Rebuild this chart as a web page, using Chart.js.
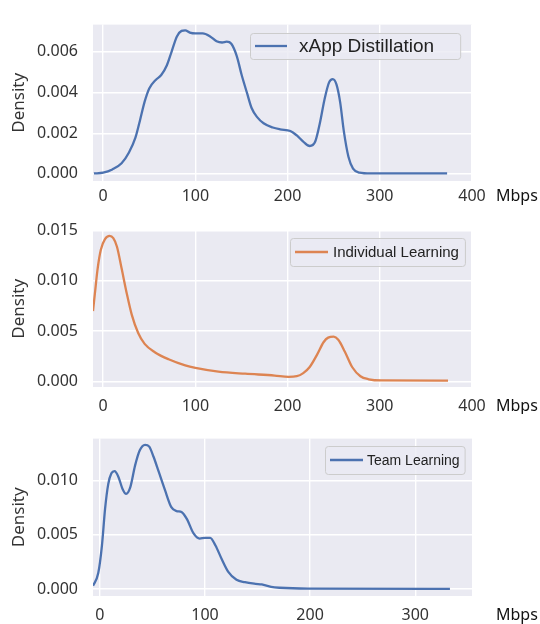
<!DOCTYPE html>
<html>
<head>
<meta charset="utf-8">
<script src="https://cdn.jsdelivr.net/npm/chart.js@4"></script>
<style>
  html, body { margin: 0; padding: 0; background: #fff; }
  #wrap { position: relative; width: 540px; height: 624px; }
  #wrap canvas { position: absolute; left: 0; }
</style>
</head>
<body>
<div id="wrap">
  <canvas id="c1" width="540" height="206" style="top:0"></canvas>
  <canvas id="c2" width="540" height="208" style="top:206px"></canvas>
  <canvas id="c3" width="540" height="210" style="top:414px"></canvas>
</div>
<script>
// density curves (x in Mbps)
const distX = [-10, 0, 10, 20, 28, 35, 40, 45, 50, 57, 63, 69, 74, 80, 85, 89, 94, 100, 108, 116,
  123, 129, 134, 139, 145, 150, 156, 161, 167, 174, 184, 192, 203, 210, 217, 224, 230, 235, 240,
  245, 249, 253, 257, 261, 266, 271, 278, 290, 373];
const distY = [0.00002, 0.00006, 0.00022, 0.00052, 0.00105, 0.00178, 0.00264, 0.00355, 0.00420,
  0.00462, 0.00486, 0.00533, 0.00598, 0.00676, 0.00703, 0.00706, 0.00695, 0.00691, 0.00691,
  0.00676, 0.00652, 0.00646, 0.00650, 0.00640, 0.00578, 0.00490, 0.00398, 0.00324, 0.00279,
  0.00249, 0.00228, 0.00219, 0.00211, 0.00189, 0.00159, 0.00137, 0.00159, 0.00249, 0.00365,
  0.00450, 0.00466, 0.00440, 0.00353, 0.00210, 0.00084, 0.00026, 0.00006, 0.00002, 0.00002];

const indivX = [-11, -9, -6, -2.5, 2, 7, 11, 15, 20, 25.5, 31, 38, 45, 56, 71, 89, 100, 125, 154,
  186, 201, 210, 217, 224, 232, 239, 244, 250, 255, 262, 270, 279, 288, 302, 374];
const indivY = [0.0070, 0.0087, 0.0112, 0.0131, 0.01415, 0.01447, 0.01425, 0.0134, 0.01125,
  0.0088, 0.00665, 0.00482, 0.00374, 0.00291, 0.00221, 0.0016, 0.00135, 0.00098, 0.00077,
  0.00059, 0.00046, 0.00052, 0.00083, 0.00144, 0.00267, 0.0039, 0.00436, 0.00445, 0.00414,
  0.00298, 0.00144, 0.00052, 0.00022, 0.0001, 0.00008];

const teamX = [-6.5, -1.5, 2, 5, 8, 11, 14, 17.5, 21.5, 25, 29, 33.5, 38, 43, 47, 51, 56, 62, 68,
  73, 78, 83, 89, 95, 100, 105, 110, 116, 122, 130, 138, 148, 154, 163, 171, 198, 333];
const teamY = [0.0003, 0.00147, 0.0040, 0.0074, 0.00966, 0.01065, 0.01085, 0.01037, 0.00924,
  0.00876, 0.00938, 0.01136, 0.01277, 0.01328, 0.01311, 0.0122, 0.0108, 0.0091, 0.00754,
  0.00718, 0.00707, 0.00641, 0.00514, 0.00464, 0.00472, 0.00472, 0.00401, 0.00274, 0.00161,
  0.00085, 0.00063, 0.00048, 0.00042, 0.0002, 0.00012, 0.00004, 0.00002];

const xTicksWide = [0, 100, 200, 300, 400];
const xTicksTeam = [0, 100, 200, 300];
const yTicksDist = [0, 0.002, 0.004, 0.006];
const yTicksIndiv = [0, 0.005, 0.010, 0.015];
const yTicksTeam = [0, 0.005, 0.010];

const BLUE = '#4C72B0';
const ORANGE = '#DD8452';

Chart.defaults.font.family = '"Noto Sans", "DejaVu Sans", sans-serif';
Chart.defaults.font.size = 16;
Chart.defaults.color = '#333';

// grey plot face, framed legend inside the axes, and the "Mbps" unit
const panelPlugin = {
  id: 'panel',
  beforeDraw(chart) {
    const {ctx, chartArea: a} = chart;
    ctx.save();
    ctx.fillStyle = '#EAEAF2';
    ctx.fillRect(a.left, a.top, a.right - a.left, a.bottom - a.top);
    ctx.restore();
  },
  afterDatasetsDraw(chart, args, o) {
    const {ctx, chartArea: a} = chart;
    const ds = chart.data.datasets[0];
    ctx.save();
    ctx.font = o.size + 'px "Liberation Sans", Arial, sans-serif';
    const tw = ctx.measureText(ds.label).width;
    const w = o.padL + o.line + o.gap + tw + o.padR;
    const x = Math.round(a.right - o.right - w);
    const y = Math.round(a.top + o.top);
    ctx.beginPath();
    ctx.roundRect(x + 0.5, y + 0.5, w, o.h, 3);
    ctx.fillStyle = 'rgba(234,234,242,0.8)';
    ctx.fill();
    ctx.strokeStyle = '#CCCCCC';
    ctx.lineWidth = 1;
    ctx.stroke();
    const my = y + o.h / 2;
    ctx.beginPath();
    ctx.moveTo(x + o.padL, my);
    ctx.lineTo(x + o.padL + o.line, my);
    ctx.strokeStyle = ds.borderColor;
    ctx.lineWidth = 2.3;
    ctx.stroke();
    ctx.fillStyle = '#222';
    ctx.textBaseline = 'middle';
    ctx.fillText(ds.label, x + o.padL + o.line + o.gap, my + 1);
    ctx.restore();
  },
  afterDraw(chart) {
    const {ctx, chartArea: a} = chart;
    const xs = chart.scales.x;
    ctx.save();
    ctx.font = '16px "Noto Sans", sans-serif';
    ctx.fillStyle = '#111';
    ctx.textBaseline = 'middle';
    ctx.fillText('Mbps', a.right + 24, xs.top + xs.options.ticks.padding + 9.6);
    ctx.restore();
  }
};

function makeChart(id, xs, ys, label, color, p) {
  return new Chart(document.getElementById(id), {
    type: 'line',
    data: {
      datasets: [{
        label: label,
        data: xs.map((x, i) => ({x: x, y: ys[i]})),
        borderColor: color,
        backgroundColor: color,
        borderWidth: 2.3,
        pointRadius: 0,
        cubicInterpolationMode: 'monotone',
        fill: false,
      }]
    },
    options: {
      responsive: false,
      animation: false,
      layout: {
        padding: {top: p.padTop, right: 68, left: 0, bottom: 0}
      },
      plugins: {
        legend: {display: false},
        tooltip: {enabled: false},
        panel: p.legend,
      },
      scales: {
        x: {
          type: 'linear',
          min: p.xMin,
          max: p.xMax,
          afterBuildTicks: s => { s.ticks = p.xTicks.map(v => ({value: v})); },
          afterFit: s => { s.height = p.xHeight; },
          grid: {color: '#ffffff', lineWidth: 1.4, drawTicks: false},
          border: {display: false},
          ticks: {padding: p.xPad, maxRotation: 0, autoSkip: false},
        },
        y: {
          min: p.yMin,
          max: p.yMax,
          afterBuildTicks: s => { s.ticks = p.yTicks.map(v => ({value: v})); },
          afterFit: s => { s.width = 93; },
          grid: {color: '#ffffff', lineWidth: 1.4, drawTicks: false},
          border: {display: false},
          ticks: {padding: 15, callback: v => v.toFixed(3)},
          title: {
            display: true,
            text: 'Density',
            font: {size: 17},
            padding: {top: 9, bottom: 0},
          },
        }
      }
    },
    plugins: [panelPlugin]
  });
}

makeChart('c1', distX, distY, 'xApp Distillation', BLUE, {
  padTop: 10, xHeight: 25, xPad: 6,
  xMin: -11, xMax: 400, xTicks: xTicksWide,
  yMin: -0.00035, yMax: 0.00734, yTicks: yTicksDist,
  legend: {size: 19, right: 12, top: 8, h: 26, padL: 5, line: 32, gap: 12, padR: 26},
});

makeChart('c2', indivX, indivY, 'Individual Learning', ORANGE, {
  padTop: 11, xHeight: 27, xPad: 10,
  xMin: -11, xMax: 400, xTicks: xTicksWide,
  yMin: -0.00055, yMax: 0.015, yTicks: yTicksIndiv,
  legend: {size: 15, right: 7, top: 7, h: 28, padL: 5, line: 33, gap: 5, padR: 6},
});

makeChart('c3', teamX, teamY, 'Team Learning', BLUE, {
  padTop: 11, xHeight: 28, xPad: 10,
  xMin: -6.5, xMax: 354, xTicks: xTicksTeam,
  yMin: -0.00064, yMax: 0.01385, yTicks: yTicksTeam,
  legend: {size: 14, right: 7, top: 7, h: 28, padL: 5, line: 33, gap: 4, padR: 5},
});
</script>
</body>
</html>
